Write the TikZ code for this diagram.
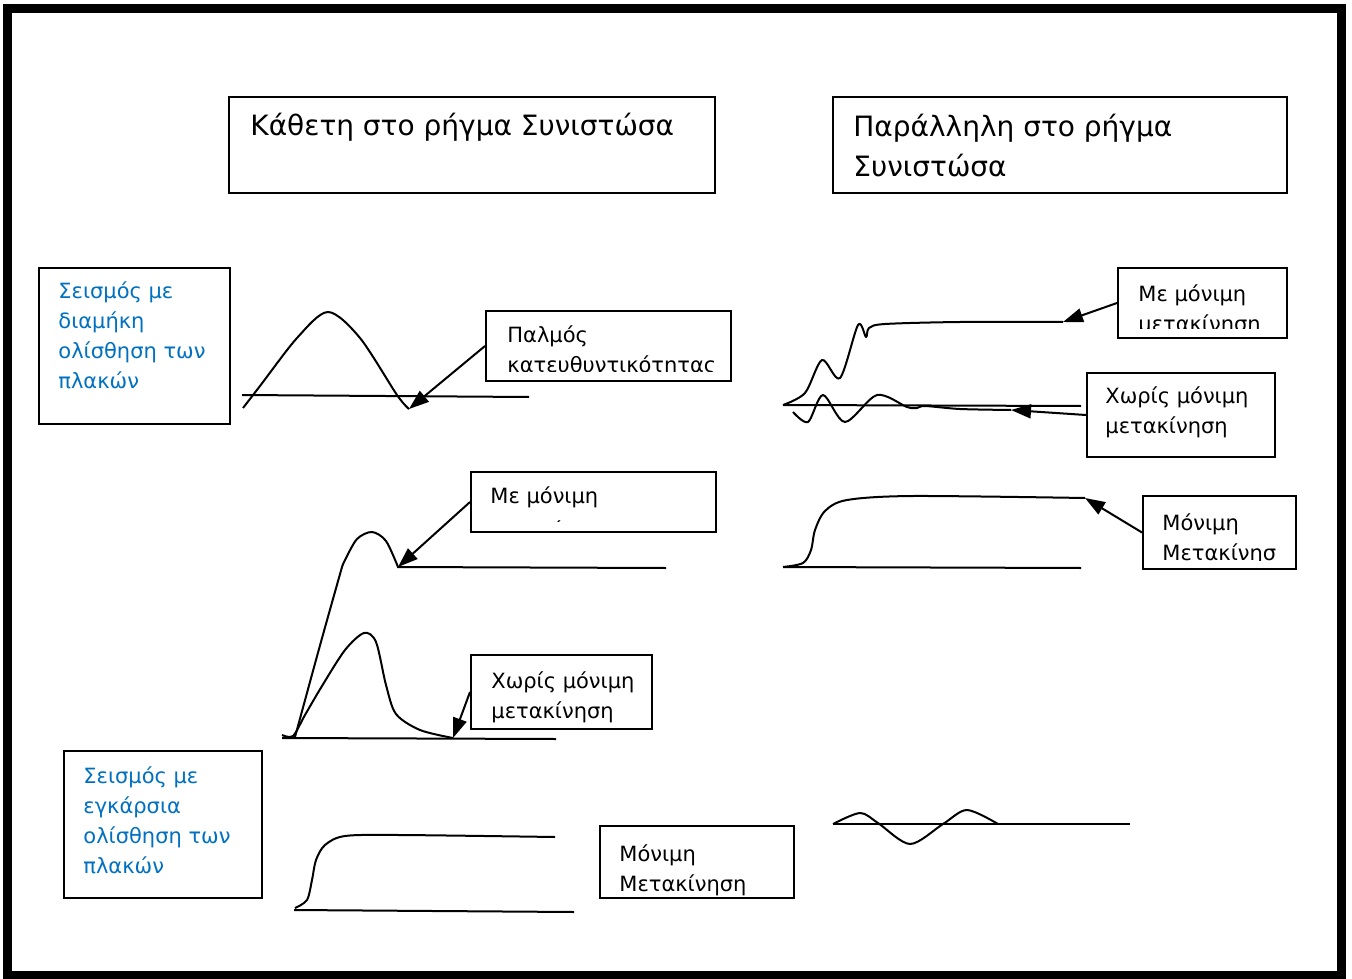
\documentclass[tikz,border=0pt]{standalone}
\usepackage{fontspec}
\setmainfont{DejaVu Sans}
\usepackage{tikz}
\usetikzlibrary{arrows.meta}
\definecolor{slipblue}{RGB}{0,112,192}
\tikzset{
  box/.style={draw, line width=1pt, anchor=north west, inner sep=0pt},
  lbl/.style={anchor=base west, inner sep=0pt, font=\fontsize{10.5}{15}\selectfont},
  heading/.style={lbl, font=\fontsize{14}{20}\selectfont},
  trace/.style={line width=1pt, line join=round},
  pointer/.style={line width=1pt, -{Triangle[length=10pt,width=7pt]}}
}

\begin{document}
\begin{tikzpicture}[x=0.5pt,y=-0.5pt]
\useasboundingbox (0,0) rectangle (1352,978);
\draw[line width=4.5pt] (7.5,8.5) rectangle (1341,975);

% headings
\node[box, minimum width=243pt, minimum height=48pt] (perp) at (228,96) {};
\node[heading] (perpTxt) at (250,136) {Κάθετη στο ρήγμα Συνιστώσα};
\node[box, minimum width=227pt, minimum height=48pt] (par) at (832,96) {};
\node[heading] (parTxt) at (853,137) {\vtop{\hbox{Παράλληλη στο ρήγμα}\hbox{Συνιστώσα}}};

% kind of slip
\node[box, minimum width=95.5pt, minimum height=78pt] (strike) at (38,267) {};
\node[lbl, text=slipblue] (strikeTxt) at (58,299) {\vtop{\hbox{Σεισμός με}\hbox{διαμήκη}\hbox{ολίσθηση των}\hbox{πλακών}}};
\node[box, minimum width=99pt, minimum height=73.5pt] (dip) at (63,750) {};
\node[lbl, text=slipblue] (dipTxt) at (83,783) {\vtop{\hbox{Σεισμός με}\hbox{εγκάρσια}\hbox{ολίσθηση των}\hbox{πλακών}}};

% labels, left column
\node[box, minimum width=122.5pt, minimum height=35pt] (pulse) at (485,310) {};
\begin{scope}
\clip (487,312) rectangle (728,371);
\node[lbl] (pulseTxt) at (507,343) {\vtop{\hbox{Παλμός}\hbox{κατευθυντικότητας}}};
\end{scope}
\node[box, minimum width=122.5pt, minimum height=30pt] (withL) at (470,471) {};
\begin{scope}
\clip (472,473) rectangle (713,521);
\node[lbl] (withLTxt) at (490,503) {\vtop{\baselineskip=17pt\hbox{Με μόνιμη}\hbox{μετακίνηση}}};
\end{scope}
\node[box, minimum width=90.5pt, minimum height=37pt] (withoutL) at (470,654) {};
\node[lbl] (withoutLTxt) at (491,688) {\vtop{\hbox{Χωρίς μόνιμη}\hbox{μετακίνηση}}};
\node[box, minimum width=97pt, minimum height=36pt] (permL) at (599,825) {};
\node[lbl] (permLTxt) at (619,861) {\vtop{\hbox{Μόνιμη}\hbox{Μετακίνηση}}};

% labels, right column
\node[box, minimum width=84.5pt, minimum height=35pt] (withR) at (1117,267) {};
\begin{scope}
\clip (1119,269) rectangle (1284,328);
\node[lbl] (withRTxt) at (1138,301) {\vtop{\hbox{Με μόνιμη}\hbox{μετακίνηση}}};
\end{scope}
\node[box, minimum width=94pt, minimum height=42pt] (withoutR) at (1086,372) {};
\node[lbl] (withoutRTxt) at (1105,403) {\vtop{\hbox{Χωρίς μόνιμη}\hbox{μετακίνηση}}};
\node[box, minimum width=76.5pt, minimum height=36.5pt] (permR) at (1142,495) {};
\begin{scope}
\clip (1144,497) rectangle (1290,560);
\node[lbl] (permRTxt) at (1162,530) {\vtop{\hbox{Μόνιμη}\hbox{Μετακίνησ}}};
\end{scope}

% ends of the pointers
\coordinate (pulseEnd) at (409,409);
\coordinate (withLEnd) at (398,567);
\coordinate (withoutLEnd) at (453,738);
\coordinate (withREnd) at (1063,322);
\coordinate (withoutREnd) at (1011,410);
\coordinate (permREnd) at (1085,498);

% traces, left
\draw[trace] (242,395) -- (529,397);
\draw[trace] plot[smooth] coordinates {(243,408) (260,386) (297,338) (328,312) (360,338) (397,395) (pulseEnd)};
\draw[trace] (397,567) -- (666,568);
\draw[trace] (282,738) -- (556,739);
\draw[trace] (295,737) .. controls (320,645) .. (342,567);
\draw[trace] plot[smooth] coordinates {(342,567) (345,560) (357,539) (372,532) (386,541) (withLEnd)};
\draw[trace] plot[smooth] coordinates {(282,735) (293,736) (305,715) (322,686) (345,650) (364,633) (376,642) (386,685) (396,714) (420,730) (withoutLEnd)};
\draw[trace] (294,910) -- (574,912);
\draw[trace] plot[smooth] coordinates {(295,908) (307,900) (312,880) (316,860) (325,845) (345,836) (400,835) (555,837)};

% traces, right
\draw[trace] (783,405) -- (1081,406);
\draw[trace] plot[smooth] coordinates {(783,405) (805,393) (822,360) (840,378) (858,325) (866,337) (869,328) (885,324) (960,322) (withREnd)};
\draw[trace] plot[smooth] coordinates {(793,412) (808,422) (823,395) (845,422) (877,395) (907,407) (917,408) (925,406) (960,409) (withoutREnd)};
\draw[trace] (783,567) -- (1081,568);
\draw[trace] plot[smooth] coordinates {(783,567) (803,563) (811,550) (815,530) (825,511) (847,500) (913,496) (permREnd)};
\draw[trace] (833,824) -- (1130,824);
\draw[trace] plot[smooth] coordinates {(833,824) (860,813) (878,823) (910,844) (943,824) (967,810) (998,824)};

% pointers
\draw[pointer] (pulse.west) -- (pulseEnd);
\draw[pointer] (withL.west) -- (withLEnd);
\draw[pointer] (withoutL.west) -- (withoutLEnd);
\draw[pointer] (withR.west) -- (withREnd);
\draw[pointer] (withoutR.west) -- (withoutREnd);
\draw[pointer] (permR.west) -- (permREnd);
\end{tikzpicture}
\end{document}
